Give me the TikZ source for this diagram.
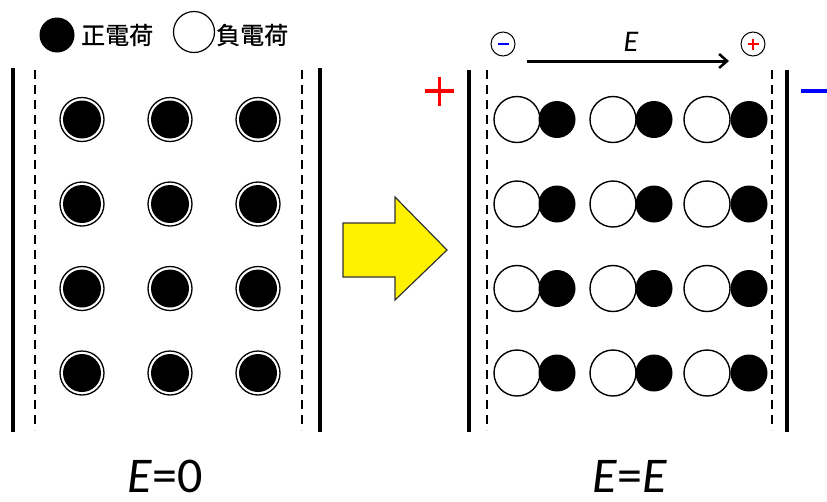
\documentclass[tikz,border=0pt]{standalone}
\usepackage{fontspec}
\setmainfont{Carlito}
\newfontfamily\cjk[FakeBold=0.8]{Noto Sans CJK JP}
\usetikzlibrary{arrows.meta}

\begin{document}
\begin{tikzpicture}[x=1pt,y=-1pt,
  plate/.style={line width=4pt},
  boundary/.style={line width=1.7pt, dash pattern=on 9pt off 6pt},
  ring/.style={circle, draw=black, line width=1.3pt, fill=white, inner sep=0pt, minimum size=44pt},
  core/.style={circle, fill=black, inner sep=0pt, minimum size=38pt},
  negion/.style={circle, draw=black, line width=1.4pt, fill=white, inner sep=0pt, minimum size=46pt},
  posion/.style={circle, fill=black, inner sep=0pt, minimum size=37pt},
  sign/.style={circle, draw=black, line width=1pt, inner sep=0pt, minimum size=24pt},
  lbl/.style={inner sep=0pt, font=\fontsize{24}{24}\selectfont\cjk},
  caption/.style={inner sep=0pt, font=\fontsize{50}{50}\selectfont}
]
\useasboundingbox (0,0) rectangle (827,501);

% legend
\node[posion, minimum size=35pt] (legpos) at (57,35) {};
\node[lbl, anchor=west] (legpostxt) at (81,35) {正電荷};
\node[circle, draw=black, line width=1.2pt, inner sep=0pt, minimum size=41pt] (legneg) at (194,32) {};
\node[lbl, anchor=west] (legnegtxt) at (216,35) {負電荷};

% left panel: plates and boundaries
\draw[plate] (13,68) -- (13,432);
\draw[plate] (320,68) -- (320,432);
\draw[boundary] (35,70) -- (35,430);
\draw[boundary] (302,70) -- (302,430);

% left panel: unpolarised atoms
\foreach \r/\yy in {1/119.5,2/204,3/288.5,4/373}{
  \foreach \c/\xx in {1/82,2/170,3/258}{
    \node[ring] (a\r\c) at (\xx,\yy) {};
    \node[core] (b\r\c) at (\xx,\yy) {};
  }
}

% transition arrow
\filldraw[fill=yellow, draw=black!80, line width=1.2pt]
  (343,223) -- (395,223) -- (395,197) -- (447,250) -- (395,300) -- (395,277) -- (343,277) -- cycle;

% right panel: plates and boundaries
\draw[plate] (469,70) -- (469,432);
\draw[plate] (787,70) -- (787,432);
\draw[boundary] (487,70) -- (487,430);
\draw[boundary] (772,70) -- (772,430);

% plate charges
\draw[red, line width=3.2pt] (425,91) -- (454,91) (439.5,77) -- (439.5,106);
\draw[blue, line width=3.2pt] (801,91) -- (827,91);

% field direction
\node[sign] (sneg) at (503,44) {};
\draw[blue, line width=1.2pt] (497.5,44) -- (508.5,44);
\node[sign] (spos) at (753,44) {};
\draw[red, line width=1.2pt] (747.5,44) -- (758.5,44) (753,38.5) -- (753,49.5);
\coordinate (ea) at (527,61);
\coordinate (eb) at (729,61);
\draw[line width=3pt, -{Straight Barb[length=8pt, width=14pt, line width=2.5pt]}] (ea) -- (eb);
\node[inner sep=0pt, font=\fontsize{30}{30}\selectfont\itshape] (elbl) at (631,42) {E};

% right panel: polarised atoms
\foreach \r/\yy in {1/119.5,2/204,3/288.5,4/373}{
  \foreach \c/\xn/\xp in {1/517/557,2/613/654,3/707/749}{
    \node[negion] (n\r\c) at (\xn,\yy) {};
    \node[posion] (p\r\c) at (\xp,\yy) {};
  }
}

% captions
\node[caption] (capl) at (165,476) {\textit{E}=0};
\node[caption] (capr) at (630,476) {\textit{E}=\textit{E}};
\end{tikzpicture}
\end{document}
